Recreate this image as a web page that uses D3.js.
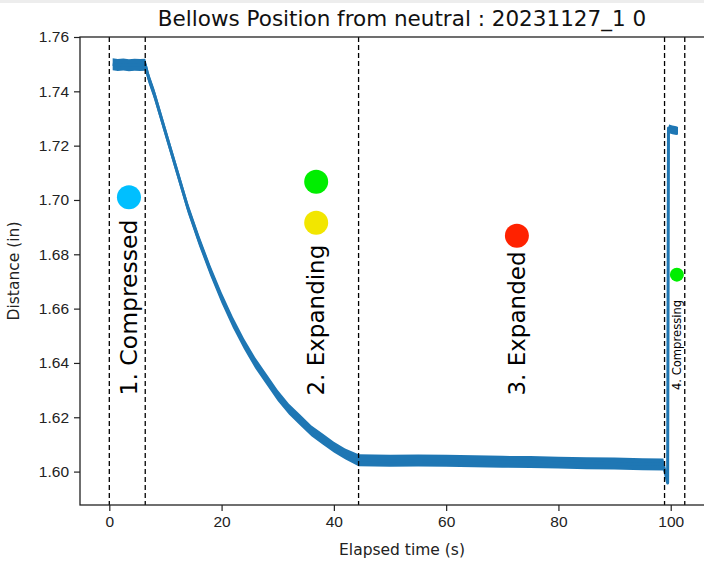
<!DOCTYPE html>
<html>
<head>
<meta charset="utf-8">
<script src="https://cdn.jsdelivr.net/npm/d3@7"></script>
<style>
  body { margin: 0; background: #fff; }
  svg { display: block; font-family: "DejaVu Sans", sans-serif; }
  .axis text { font-size: 15.5px; fill: #222; }
  .axis line { stroke: #222; stroke-width: 1.2; }
</style>
</head>
<body>
<div id="chart"></div>
<script>
// bellows trace (time s, distance in, half width of the noise band)
var timeS = [0.6, 1.5, 2.5, 3.5, 4.5, 5.5, 6.4, 7, 8, 9, 10, 11, 12, 13, 14, 15, 16, 18, 20, 22,
             24, 26, 28, 30, 32, 34, 36, 38, 40, 42, 44.4, 50, 55, 60, 65, 70, 75, 80, 85, 90,
             95, 98.7, 99.45, 99.6, 99.7, 100.3, 101.0, 101.3];
var distIn = [1.7500, 1.7497, 1.7499, 1.7496, 1.7498, 1.7497, 1.7498, 1.745, 1.739, 1.732, 1.725,
              1.718, 1.711, 1.704, 1.697, 1.691, 1.685, 1.674, 1.664, 1.655, 1.647, 1.640, 1.634,
              1.628, 1.623, 1.619, 1.615, 1.612, 1.609, 1.6065, 1.6042, 1.6040, 1.6041, 1.6040,
              1.6038, 1.6036, 1.6035, 1.6033, 1.6031, 1.6030, 1.6027, 1.6026, 1.5958, 1.7265,
              1.7262, 1.7258, 1.7255, 1.7255];
var noiseIn = [0.0022, 0.0022, 0.0022, 0.0022, 0.0022, 0.0022, 0.0022, 0.002, 0.002, 0.002, 0.002,
               0.002, 0.002, 0.002, 0.002, 0.002, 0.002, 0.002, 0.002, 0.002, 0.002, 0.002, 0.002,
               0.002, 0.002, 0.002, 0.002, 0.002, 0.002, 0.002, 0.0022, 0.0022, 0.0022, 0.0022,
               0.0022, 0.0022, 0.0022, 0.0022, 0.0022, 0.0022, 0.0022, 0.0022, 0, 0,
               0.0016, 0.0016, 0.0016, 0.0014];

// phase boundaries (dashed lines)
var phaseBounds = [0, 6.4, 44.4, 98.9, 102.5];

// phase labels and the coloured dots
var phaseNames = ["1. Compressed", "2. Expanding", "3. Expanded", "4. Compressing"];
var phaseLabelT = [3.5, 36.8, 72.6, 101.1];
var phaseLabelD = [1.628, 1.628, 1.628, 1.630];
var dotT = [3.5, 36.85, 36.85, 72.6, 101.1];
var dotD = [1.701, 1.7067, 1.6916, 1.6868, 1.6725];

var xTicks = [0, 20, 40, 60, 80, 100];
var yTicks = [1.60, 1.62, 1.64, 1.66, 1.68, 1.70, 1.72, 1.74, 1.76];

var dotColors = ["#00bfff", "#00ee00", "#f2e600", "#ff2200", "#00ee00"];
var dotRadius = [12, 12, 12, 12, 7];
var labelSize = [23.5, 23, 23, 11.6];

var margin = {top: 37, left: 80},
    width = 644,
    height = 468;

var svg = d3.select("#chart").append("svg")
    .attr("width", 704)
    .attr("height", 563);

// thin grey strip along the top of the screenshot
svg.append("rect")
  .attr("width", 704)
  .attr("height", 3)
  .attr("fill", "#ededed");

var g = svg.append("g")
    .attr("transform", "translate(" + margin.left + "," + margin.top + ")");

var x = d3.scaleLinear().domain([-5.22, 109.49]).range([0, width]);
var y = d3.scaleLinear().domain([1.5877, 1.76]).range([height, 0]);

var trace = timeS.map(function(t, i) {
  return {t: t, d: distIn[i], n: noiseIn[i]};
});

// noise band
g.append("path")
  .datum(trace)
  .attr("fill", "#1f77b4")
  .attr("d", d3.area()
    .x(function(p) { return x(p.t); })
    .y0(function(p) { return y(p.d - p.n); })
    .y1(function(p) { return y(p.d + p.n); }));

// centre line
g.append("path")
  .datum(trace)
  .attr("fill", "none")
  .attr("stroke", "#1f77b4")
  .attr("stroke-width", 3)
  .attr("stroke-linejoin", "round")
  .attr("d", d3.line()
    .x(function(p) { return x(p.t); })
    .y(function(p) { return y(p.d); }));

// dashed phase lines
g.selectAll(".phase")
  .data(phaseBounds)
  .enter().append("line")
    .attr("class", "phase")
    .attr("x1", function(d) { return x(d); })
    .attr("x2", function(d) { return x(d); })
    .attr("y1", 0)
    .attr("y2", height)
    .attr("stroke", "#000")
    .attr("stroke-width", 1.3)
    .attr("stroke-dasharray", "5,3");

// dots
g.selectAll(".dot")
  .data(dotT)
  .enter().append("circle")
    .attr("class", "dot")
    .attr("cx", function(d) { return x(d); })
    .attr("cy", function(d, i) { return y(dotD[i]); })
    .attr("r", function(d, i) { return dotRadius[i]; })
    .attr("fill", function(d, i) { return dotColors[i]; });

// rotated phase labels
g.selectAll(".plabel")
  .data(phaseNames)
  .enter().append("text")
    .attr("class", "plabel")
    .attr("transform", function(d, i) {
      return "translate(" + x(phaseLabelT[i]) + "," + y(phaseLabelD[i]) + ") rotate(-90)";
    })
    .attr("dy", "0.36em")
    .style("font-size", function(d, i) { return labelSize[i] + "px"; })
    .style("fill", "#000")
    .text(function(d) { return d; });

// axes
var xAxis = d3.axisBottom(x).tickValues(xTicks).tickSize(6).tickPadding(5)
  .tickFormat(d3.format("d"));
var yAxis = d3.axisLeft(y).tickValues(yTicks).tickSize(6).tickPadding(5)
  .tickFormat(d3.format(".2f"));

g.append("g")
  .attr("class", "x axis")
  .attr("transform", "translate(0," + height + ")")
  .call(xAxis)
  .call(function(a) { a.select(".domain").remove(); });

g.append("g")
  .attr("class", "y axis")
  .call(yAxis)
  .call(function(a) { a.select(".domain").remove(); });

// spines
g.append("rect")
  .attr("width", width)
  .attr("height", height)
  .attr("fill", "none")
  .attr("stroke", "#222")
  .attr("stroke-width", 1.3);

// titles
svg.append("text")
  .attr("x", margin.left + width / 2)
  .attr("y", 26)
  .attr("text-anchor", "middle")
  .style("font-size", "21.5px")
  .style("fill", "#111")
  .text("Bellows Position from neutral : 20231127_1 0");

svg.append("text")
  .attr("x", margin.left + width / 2)
  .attr("y", 555)
  .attr("text-anchor", "middle")
  .style("font-size", "15.5px")
  .style("fill", "#222")
  .text("Elapsed time (s)");

svg.append("text")
  .attr("transform", "translate(19," + (margin.top + height / 2) + ") rotate(-90)")
  .attr("text-anchor", "middle")
  .style("font-size", "15.5px")
  .style("fill", "#222")
  .text("Distance (in)");
</script>
</body>
</html>
